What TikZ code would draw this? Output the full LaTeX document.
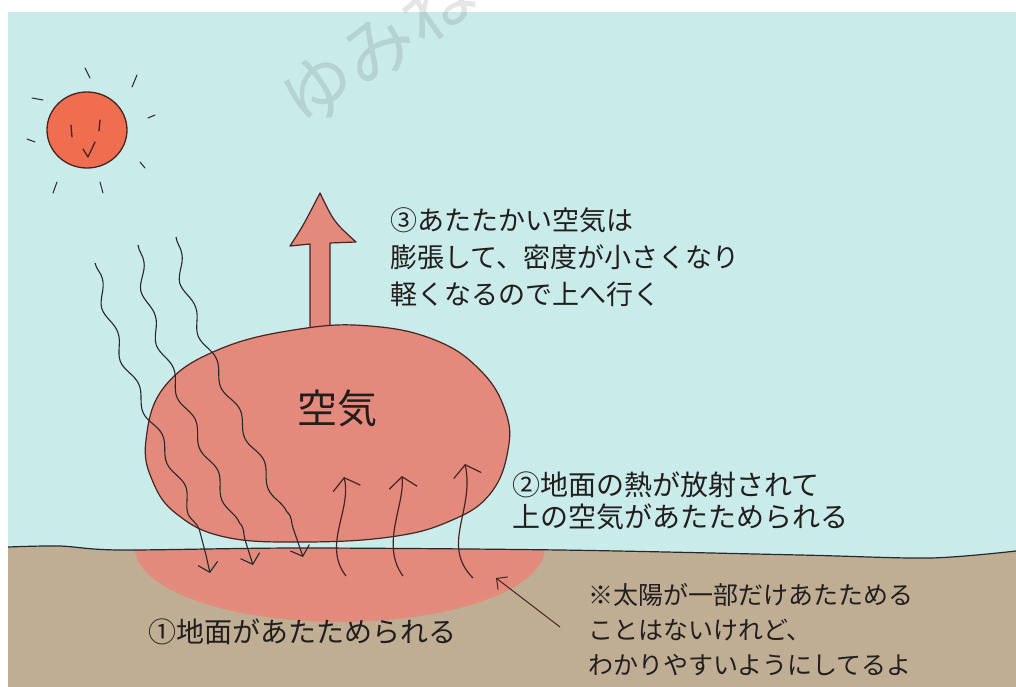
\documentclass[tikz,border=0pt]{standalone}
\usepackage{fontspec}
\newfontfamily\jpfont{Noto Sans CJK JP}
\usetikzlibrary{positioning, arrows.meta, decorations.pathmorphing}

\definecolor{sky}{RGB}{201,235,234}
\definecolor{soil}{RGB}{192,174,148}
\definecolor{warmair}{RGB}{228,138,124}
\definecolor{sunred}{RGB}{240,110,80}
\definecolor{ink}{RGB}{34,30,30}
\definecolor{pen}{RGB}{70,36,34}
\definecolor{rayink}{RGB}{38,40,44}

% soft pink patch on the ground
\pgfdeclareradialshading{groundglow}{\pgfpoint{0bp}{0bp}}{%
  color(0bp)=(warmair); color(24bp)=(warmair); color(35bp)=(soil); color(50bp)=(soil)}

\tikzset{
  caption/.style={align=left, anchor=west, inner sep=0pt, text=ink},
  glint/.style={draw=rayink, line width=1pt, line cap=round},
  ray/.style={draw=rayink, line width=1.1pt, -{Straight Barb[length=9pt, width=20pt]},
    decorate, decoration={snake, amplitude=4pt, segment length=56pt, post length=18pt}},
  heat/.style={draw=pen, line width=1.2pt, -{Straight Barb[length=11pt, width=28pt]}},
  pointer/.style={draw=pen, line width=1pt, -{Straight Barb[length=8pt, width=16pt]}},
}

\begin{document}
\begin{tikzpicture}[x=1pt, y=-1pt]
	\useasboundingbox (0,0) rectangle (1016,687);
	\fill[white] (0,0) rectangle (1016,687);
	\clip (0,0) rectangle (1016,687);

	% sky and ground
	\fill[sky] (8,12) rectangle (1016,687);
	\fill[soil] plot[smooth] coordinates {(8,547) (60,546) (120,550) (300,548) (560,550) (800,555) (930,558) (1016,551)}
		-- (1016,687) -- (8,687) -- cycle;
	\begin{scope}
		\clip plot[smooth] coordinates {(8,547) (60,546) (120,550) (300,548) (560,550) (800,555) (930,558) (1016,551)}
			-- (1016,687) -- (8,687) -- cycle;
		\shade[shading=groundglow] (340,548) ellipse [x radius=205, y radius=74];
	\end{scope}
	\draw[rayink, line width=1.2pt] plot[smooth] coordinates {(8,547) (60,546) (120,550) (300,548) (560,550) (800,555) (930,558) (1016,551)};

	% watermark
	\node[rotate=35, text=black, opacity=0.1, font=\jpfont\fontsize{72}{72}\selectfont] (mark) at (378,48) {ゆみね};

	% sun
	\draw[draw=pen, fill=sunred, line width=1.3pt] (87,130) ellipse [x radius=40, y radius=38];
	\foreach \xa/\ya/\xb/\yb in {85/68/90/78, 137/75/132/87, 32/98/43/100, 148/118/155/115,
		27/139/35/142, 140/162/145/168, 57/182/53/193, 100/182/103/193}
		\draw[glint] (\xa,\ya) -- (\xb,\yb);
	\draw[pen, line width=1.3pt, line cap=round] (71,125) -- (72,137);
	\draw[pen, line width=1.3pt, line cap=round] (100,120) -- (99,131);
	\draw[pen, line width=1.3pt, line cap=round, line join=round] (83,149) -- (88,157) -- (95,142);

	% rising arrow
	\draw[draw=pen, fill=warmair, line width=1.2pt, line join=round]
		(310,335) -- (310,244) -- (290,246) .. controls (303,226) .. (320,193)
		.. controls (334,222) .. (356,242) -- (330,243) -- (330,335);

	% the parcel of air
	\draw[draw=pen, fill=warmair, line width=1.2pt] plot[smooth cycle, tension=0.7] coordinates {
		(146,440) (165,386) (220,349) (300,329) (370,326) (435,340) (480,370) (505,410)
		(508,450) (490,494) (450,521) (390,537) (300,542) (225,537) (178,515) (153,482)};
	\node[font=\jpfont\fontsize{40}{40}\selectfont, text=ink] (air) at (337,408) {空気};

	% sunlight coming down
	\coordinate (s1) at (95,263);
	\coordinate (g1) at (210,573);
	\coordinate (s2) at (138,245);
	\coordinate (g2) at (253,565);
	\coordinate (s3) at (176,237);
	\coordinate (g3) at (303,557);
	\draw[ray] (s1) .. controls (120,380) and (185,450) .. (g1);
	\draw[ray] (s2) .. controls (150,350) and (215,440) .. (g2);
	\draw[ray] (s3) .. controls (185,320) and (265,440) .. (g3);

	% heat given off by the ground
	\coordinate (h1) at (346,576);
	\coordinate (t1) at (344,477);
	\coordinate (h2) at (403,576);
	\coordinate (t2) at (402,476);
	\coordinate (h3) at (473,578);
	\coordinate (t3) at (465,464);
	\draw[heat] (h1) .. controls (322,545) and (352,510) .. (t1);
	\draw[heat] (h2) .. controls (380,545) and (405,505) .. (t2);
	\draw[heat] (h3) .. controls (440,545) and (475,510) .. (t3);

	% captions
	\node[caption, font=\jpfont\fontsize{27}{37}\selectfont] (rise) at (390,257)
		{③あたたかい空気は\\膨張して、密度が小さくなり\\軽くなるので上へ行く};
	\node[caption, font=\jpfont\fontsize{28}{32}\selectfont] (radiate) at (512,501)
		{②地面の熱が放射されて\\上の空気があたためられる};
	\node[caption, font=\jpfont\fontsize{28}{30}\selectfont] (ground) at (148,632)
		{①地面があたためられる};
	\node[caption, font=\jpfont\fontsize{25}{35}\selectfont] (note) at (588,630)
		{※太陽が一部だけあたためる\\ことはないけれど、\\わかりやすいようにしてるよ};

	\coordinate (notetail) at (560,627);
	\coordinate (notetip) at (496,578);
	\draw[pointer] (notetail) -- (notetip);
\end{tikzpicture}
\end{document}
